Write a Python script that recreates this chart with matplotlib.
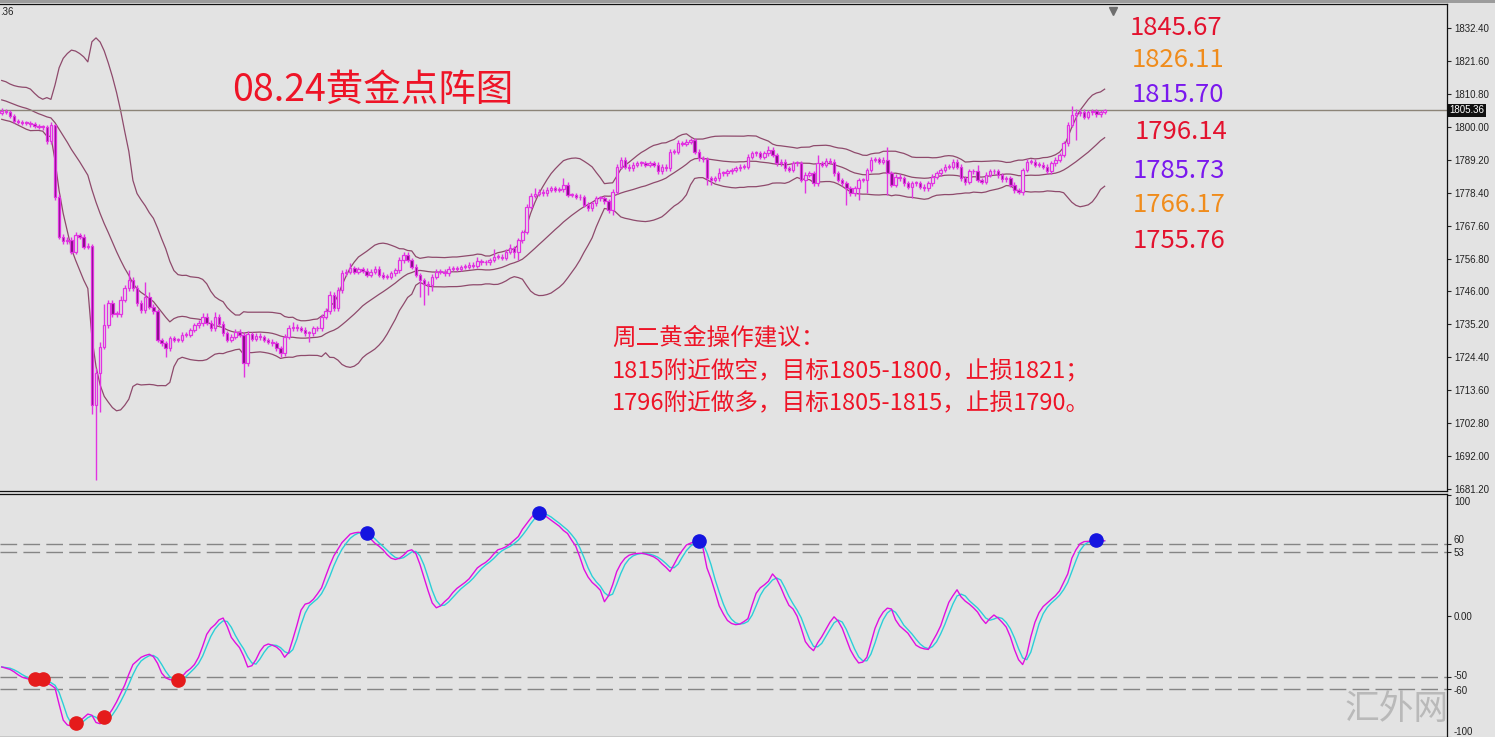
import numpy as np
import pandas as pd
import matplotlib
matplotlib.use("Agg")
import matplotlib.pyplot as plt
from matplotlib import transforms
from matplotlib.patches import Rectangle

plt.rcParams['font.family'] = ['Noto Sans CJK SC', 'DejaVu Sans']

# closes before the visible window, only used to warm up the bollinger bands
closes_prior = [1812.5, 1814.0, 1813.0, 1811.5, 1810.0, 1808.5, 1811.0, 1813.5, 1812.0, 1809.5,
                1806.0, 1807.5, 1808.5, 1807.0, 1806.0, 1805.0, 1805.5, 1804.5, 1804.5]

closes = [
    1805.0, 1804.8, 1803.5, 1802.0, 1801.5, 1801.3, 1801.2, 1800.8, 1800.3, 1800.0,
    1799.8, 1795.2, 1800.5, 1777.1, 1764.0, 1762.5, 1763.0, 1759.0, 1764.5, 1764.0,
    1760.7, 1761.0, 1708.8, 1719.2, 1727.9, 1735.0, 1742.1, 1738.5, 1738.5, 1743.2,
    1747.0, 1749.8, 1747.0, 1742.1, 1739.9, 1744.3, 1741.0, 1739.5, 1730.1, 1729.0,
    1727.4, 1730.7, 1730.1, 1730.1, 1731.8, 1731.8, 1733.4, 1735.0, 1735.6, 1737.8,
    1735.8, 1733.9, 1737.8, 1735.5, 1732.3, 1730.1, 1731.2, 1732.8, 1731.8, 1722.5,
    1732.0, 1730.5, 1731.5, 1731.0, 1730.1, 1729.5, 1729.0, 1727.4, 1725.7, 1731.2,
    1733.9, 1734.4, 1734.0, 1733.5, 1732.3, 1732.3, 1733.9, 1733.9, 1737.7, 1739.5,
    1745.0, 1740.5, 1746.4, 1752.0, 1752.5, 1753.6, 1752.5, 1753.3, 1752.8, 1751.5,
    1752.5, 1753.5, 1751.5, 1750.8, 1750.8, 1752.0, 1753.0, 1756.2, 1758.0, 1756.3,
    1754.1, 1751.4, 1749.7, 1748.6, 1748.2, 1750.8, 1752.5, 1752.4, 1752.0, 1753.5,
    1753.7, 1753.5, 1754.0, 1754.1, 1754.8, 1754.5, 1756.0, 1755.5, 1755.5, 1756.3,
    1757.4, 1757.4, 1757.0, 1759.0, 1760.1, 1759.0, 1762.8, 1765.5, 1773.8, 1777.4,
    1778.0, 1778.7, 1778.2, 1779.3, 1779.8, 1779.3, 1779.5, 1780.9, 1777.6, 1777.6,
    1777.1, 1776.8, 1774.4, 1773.3, 1774.9, 1776.5, 1776.5, 1775.5, 1772.7, 1778.7,
    1786.9, 1789.1, 1786.9, 1786.4, 1787.5, 1788.0, 1788.0, 1787.5, 1788.0, 1787.5,
    1785.3, 1786.9, 1786.4, 1791.8, 1791.8, 1794.6, 1794.3, 1795.0, 1795.5, 1791.8,
    1789.7, 1789.3, 1783.1, 1782.5, 1783.1, 1784.7, 1784.7, 1785.3, 1785.8, 1786.4,
    1786.9, 1786.9, 1790.2, 1791.3, 1791.3, 1790.2, 1791.3, 1792.4, 1790.7, 1788.0,
    1788.5, 1786.4, 1785.8, 1788.0, 1788.0, 1782.5, 1784.2, 1784.7, 1781.4, 1788.0,
    1787.5, 1788.8, 1788.5, 1784.7, 1782.5, 1781.4, 1779.8, 1778.2, 1779.8, 1782.5,
    1782.5, 1785.8, 1789.1, 1789.3, 1788.5, 1789.1, 1784.7, 1780.9, 1783.6, 1783.1,
    1781.4, 1780.3, 1781.4, 1781.4, 1780.3, 1779.8, 1781.4, 1783.6, 1784.7, 1785.8,
    1786.9, 1786.9, 1788.5, 1786.9, 1783.1, 1782.0, 1785.3, 1785.3, 1782.5, 1782.0,
    1784.2, 1785.3, 1785.3, 1784.0, 1782.8, 1783.1, 1780.9, 1779.2, 1778.7, 1785.8,
    1788.5, 1788.5, 1787.5, 1787.5, 1786.9, 1785.3, 1788.0, 1789.1, 1790.7, 1794.5,
    1800.6, 1803.8, 1804.4, 1804.9, 1803.3, 1804.7, 1805.0, 1804.0, 1804.8, 1805.36,
]

# wick length above / below the candle body
wick_up = [
    1.0, 0.8, 0.8, 0.6, 0.6, 0.6, 0.6, 0.6, 0.6, 0.6,
    0.6, 0.8, 1.0, 0.5, 0.8, 0.8, 1.0, 0.8, 1.0, 0.8,
    0.8, 0.8, 0.5, 1.8, 1.5, 7.0, 1.0, 1.0, 1.0, 1.2,
    1.0, 3.2, 1.0, 1.0, 1.0, 4.7, 1.5, 1.0, 0.8, 0.8,
    0.8, 0.8, 0.8, 0.8, 0.8, 0.8, 0.8, 0.8, 1.0, 1.0,
    1.0, 0.8, 1.5, 0.8, 0.8, 0.8, 0.8, 0.8, 0.8, 0.8,
    1.0, 0.8, 1.0, 0.8, 0.8, 0.8, 0.8, 0.8, 0.8, 1.0,
    1.0, 1.5, 0.8, 0.8, 0.8, 0.8, 0.8, 0.8, 1.0, 1.0,
    1.0, 0.8, 1.0, 1.0, 1.0, 1.6, 0.8, 0.8, 0.8, 0.8,
    0.8, 0.8, 0.8, 0.8, 0.8, 0.8, 0.8, 1.0, 1.0, 0.8,
    0.8, 0.8, 0.8, 0.8, 0.8, 0.8, 0.8, 0.8, 0.8, 0.8,
    0.8, 0.8, 0.8, 0.8, 0.8, 0.8, 1.4, 0.8, 0.8, 0.8,
    2.6, 0.8, 0.8, 0.8, 1.6, 0.8, 0.8, 0.8, 0.8, 0.8,
    1.8, 0.8, 0.8, 0.8, 0.8, 0.8, 0.8, 2.2, 0.8, 0.8,
    0.8, 0.8, 0.8, 0.8, 0.8, 0.8, 0.8, 0.8, 0.8, 0.8,
    0.8, 0.8, 0.8, 0.8, 0.8, 0.8, 0.8, 0.8, 0.8, 0.8,
    0.8, 0.8, 0.8, 0.8, 0.8, 1.1, 0.8, 0.8, 0.8, 0.8,
    0.8, 0.8, 0.8, 0.8, 0.8, 1.7, 0.8, 0.8, 0.8, 0.8,
    0.8, 0.8, 0.8, 0.8, 0.8, 0.8, 0.8, 1.1, 0.8, 0.8,
    0.8, 0.8, 0.8, 0.8, 0.8, 0.8, 0.8, 0.8, 0.8, 2.7,
    0.8, 0.8, 0.8, 0.8, 0.8, 0.8, 0.8, 0.8, 0.8, 0.8,
    0.8, 0.8, 0.8, 0.8, 0.8, 0.8, 4.3, 0.8, 0.8, 0.8,
    0.8, 0.8, 0.8, 0.8, 0.8, 0.8, 0.8, 0.8, 0.8, 0.8,
    0.8, 0.8, 0.8, 0.8, 0.8, 0.8, 0.8, 0.8, 2.1, 0.8,
    0.8, 0.8, 0.8, 0.8, 0.8, 0.8, 0.8, 0.8, 0.8, 0.8,
    0.8, 0.8, 0.8, 0.8, 0.8, 0.8, 0.8, 0.8, 0.8, 0.8,
    0.8, 3.0, 1.4, 0.8, 0.8, 0.8, 0.8, 0.8, 0.8, 0.5,
]
wick_dn = [
    0.8, 0.8, 0.8, 0.8, 0.8, 0.8, 0.8, 0.8, 0.8, 0.8,
    0.8, 1.0, 0.8, 1.1, 0.8, 0.8, 0.8, 0.8, 0.8, 0.8,
    0.8, 0.8, 2.8, 24.5, 12.6, 0.8, 0.8, 0.8, 0.8, 0.8,
    0.8, 0.8, 0.8, 0.8, 0.8, 0.8, 0.8, 0.8, 0.8, 0.8,
    2.8, 0.8, 0.8, 0.8, 0.8, 0.8, 0.8, 0.8, 0.8, 0.8,
    0.8, 0.8, 0.8, 0.8, 0.8, 0.8, 0.8, 0.8, 0.8, 4.4,
    0.8, 0.8, 0.8, 0.8, 0.8, 0.8, 0.8, 0.8, 1.1, 0.8,
    0.8, 0.8, 0.8, 0.8, 0.8, 2.8, 0.8, 0.8, 0.8, 0.8,
    0.8, 0.8, 0.8, 0.8, 0.8, 0.8, 0.8, 0.8, 0.8, 0.8,
    0.8, 0.8, 0.8, 0.8, 0.8, 0.8, 0.8, 0.8, 0.8, 0.8,
    0.8, 0.8, 5.4, 7.1, 3.2, 2.2, 0.8, 0.8, 0.8, 0.8,
    0.8, 0.8, 0.8, 0.8, 0.8, 0.8, 0.8, 0.8, 0.8, 0.8,
    0.8, 0.8, 0.8, 0.8, 0.8, 2.0, 2.7, 0.8, 0.8, 0.8,
    0.8, 0.8, 0.8, 0.8, 0.8, 0.8, 0.8, 0.8, 0.8, 0.8,
    0.8, 0.8, 0.8, 1.1, 0.8, 0.8, 0.8, 0.8, 1.1, 1.6,
    0.8, 0.8, 0.8, 0.8, 0.8, 0.8, 0.8, 0.8, 0.8, 0.8,
    0.8, 0.8, 0.8, 0.8, 0.8, 0.8, 0.8, 0.8, 0.8, 0.8,
    0.8, 0.8, 2.2, 1.6, 0.8, 0.8, 0.8, 0.8, 0.8, 0.8,
    0.8, 0.8, 0.8, 0.8, 0.8, 0.8, 0.8, 0.8, 0.8, 0.8,
    0.8, 0.8, 0.8, 0.8, 0.8, 0.8, 4.3, 0.8, 0.8, 0.8,
    0.8, 0.8, 0.8, 0.8, 0.8, 0.8, 5.5, 0.8, 0.8, 3.8,
    0.8, 4.3, 0.8, 0.8, 0.8, 0.8, 7.1, 0.8, 0.8, 0.8,
    0.8, 0.8, 3.8, 0.8, 0.8, 0.8, 0.8, 0.8, 0.8, 0.8,
    0.8, 0.8, 0.8, 0.8, 0.8, 1.1, 0.8, 0.8, 0.8, 0.8,
    0.8, 0.8, 0.8, 0.8, 0.8, 0.8, 0.8, 0.8, 0.8, 1.1,
    0.8, 0.8, 0.8, 0.8, 0.8, 0.8, 0.8, 0.8, 0.8, 0.8,
    0.8, 0.8, 8.2, 0.8, 0.8, 0.8, 0.8, 0.8, 0.8, 0.8,
]

# fast oscillator line (magenta); the slow line is its 3-bar average
osc_fast = [
    -42, -43, -44, -46, -48.5, -50.5, -51.5, -52.5, -52.5, -52.5,
    -53, -55, -57, -59.4, -73, -86, -90, -91, -89.5, -87,
    -84, -81, -82, -88, -89, -86, -82, -77, -71, -64,
    -57, -48, -40, -37, -34, -32.5, -31.5, -33.5, -39, -47,
    -51, -52.5, -53, -53.5, -50, -46, -43.5, -40, -34, -25,
    -15, -10, -7, -3, -1.5, -8.5, -17.5, -22, -26, -33,
    -42, -41, -36, -29, -24.5, -23, -24, -25.5, -28.5, -34,
    -30, -19, -7.5, 5, 10, 11, 14, 18.5, 23.5, 33,
    42, 50, 55.5, 61, 64.5, 68, 69, 69.5, 69, 68,
    64, 60.5, 58, 55, 51, 48, 47, 48, 50.5, 54,
    55, 52, 43, 32, 21, 11, 7, 8.5, 12, 15,
    19.5, 23, 25.5, 28, 31, 35.5, 40, 42.5, 44.5, 47.5,
    51.5, 55, 56, 57.5, 60, 63, 66, 72, 76.5, 81,
    85, 85.2, 85, 82, 79.5, 77, 74.5, 71, 68.5, 63,
    58, 49, 39, 32.5, 28, 25, 21.5, 12, 17, 26,
    37, 43.5, 48, 50.5, 51.5, 52, 52.2, 51.5, 50.5, 49.2,
    47, 43.5, 40.5, 37, 43, 49.5, 54.5, 59, 60.5, 61.8,
    61, 57, 40, 31, 20, 8.5, 2, -3.5, -6, -7,
    -6.5, -4.5, -2, 9, 19, 23.5, 26, 29, 35, 31,
    24, 16, 9, 6, 0, -10, -21, -25.5, -28.5, -22,
    -17, -11, -5, -0.5, -4, -10, -19, -28, -34, -38.7,
    -38, -34, -22, -10, -2, 3.5, 6.7, 6, -3, -8,
    -11, -14, -19, -24, -26, -27, -27.5, -21, -15, -8,
    2, 11.5, 17, 21.9, 16, 12.5, 10, 7, 3.5, -2,
    -6, -2, 1, -1.5, -5, -9, -17, -27.5, -36, -40,
    -32, -17, -5, 3, 8, 11, 14, 17, 21, 28,
    35, 48, 55, 60, 61.8, 62, 62.3, 62.4, 62.5, 62.5,
]

red_dot_bars = [8, 10, 18, 25, 43]
red_dot_vals = [-51.6, -51.6, -88.0, -83.6, -53.0]
blue_dot_bars = [89, 131, 170, 267]
blue_dot_vals = [69.0, 85.5, 62.4, 63.2]

last_price = 1805.36
price_ticks = [1832.40, 1821.60, 1810.80, 1800.00, 1789.20, 1778.40, 1767.60, 1756.80,
               1746.00, 1735.20, 1724.40, 1713.60, 1702.80, 1692.00, 1681.20]
osc_ticks = [100, 60, 53, 0, -50, -60, -100]
osc_tick_labels = ['100', '60', '53', '0.00', '-50', '-60', '-100']
osc_levels = [60, 53, -50, -60]

level_labels = ['1845.67', '1826.11', '1815.70', '1796.14', '1785.73', '1766.17', '1755.76']
level_colors = ['#E3122E', '#F08C1C', '#7A18EE', '#E3122E', '#7A18EE', '#F08C1C', '#E3122E']
title = '08.24黄金点阵图'
advice = ['周二黄金操作建议：',
          '1815附近做空，目标1805-1800，止损1821；',
          '1796附近做多，目标1805-1815，止损1790。']
watermark = '汇外网'

BG = '#E3E3E3'
CANDLE = '#E233E2'
DARK = '#7E0C7E'
BAND = '#8E4A6C'
W, H = 1495, 737


def fx(x):
    return x / W


def fy(y):
    return 1 - y / H


fig = plt.figure(figsize=(W / 100, H / 100), dpi=100, facecolor=BG)
fig.patches.append(Rectangle((0, fy(3)), 1, 3 / H, transform=fig.transFigure,
                             facecolor='#9C9C9C', edgecolor='none'))

ax1 = fig.add_axes([0, fy(491), fx(1447), (491 - 4) / H], facecolor=BG)
ax2 = fig.add_axes([0, 0, fx(1447), (737 - 494) / H], facecolor=BG)

# ---- price panel ----
n = len(closes)
idx = np.arange(n)
c = np.array(closes)
o = np.r_[closes_prior[-1], c[:-1]]
top = np.maximum(o, c)
bot = np.minimum(o, c)
hi = top + np.array(wick_up)
lo = bot - np.array(wick_dn)
body = np.maximum(top - bot, 0.3)
bull = c >= o

s = pd.Series(closes_prior + closes)
mid = s.rolling(20).mean()
sd = s.rolling(20).std(ddof=0)
x_all = np.arange(-len(closes_prior), n)
for line in (mid, mid + 2 * sd, mid - 2 * sd):
    ax1.plot(x_all, line, color=BAND, lw=0.9, zorder=1)

ax1.axhline(last_price, color='#8C8478', lw=1, zorder=1)
ax1.vlines(idx, lo, hi, color=CANDLE, lw=1, zorder=2)
ax1.bar(idx[bull], body[bull], bottom=bot[bull], width=0.6, facecolor=BG,
        edgecolor=CANDLE, lw=0.9, zorder=3)
ax1.bar(idx[~bull], body[~bull], bottom=bot[~bull], width=0.6, facecolor=DARK,
        edgecolor=CANDLE, lw=0.9, zorder=3)

ax1.set_xlim(-0.42, 352.5)
ax1.set_ylim(1680.65, 1840.16)
ax1.set_xticks([])
ax1.yaxis.tick_right()
ax1.set_yticks(price_ticks)
ax1.set_yticklabels(['%.2f' % t for t in price_ticks], family='Liberation Sans')
ax1.tick_params(axis='y', length=3, width=0.8, pad=2, labelsize=7, colors='#222222')
ax1.text(1.0015, last_price, '%.2f' % last_price, transform=ax1.get_yaxis_transform(),
         color='white', fontsize=7, family='Liberation Sans', va='center', ha='left',
         bbox=dict(facecolor='#101010', edgecolor='none', pad=1.2))
ax1.plot([271], [0.985], marker='v', ms=6, color='#6E6E6E',
         transform=transforms.blended_transform_factory(ax1.transData, ax1.transAxes),
         clip_on=False)

# ---- oscillator panel ----
k = pd.Series(osc_fast)
d = k.rolling(3, min_periods=1).mean()
for lv in osc_levels:
    ax2.axhline(lv, color='#858585', lw=1, dashes=(12, 4.5), zorder=1)
ax2.plot(np.arange(len(osc_fast)), d, color='#2CCFD8', lw=1, zorder=2)
ax2.plot(np.arange(len(osc_fast)), k, color='#E010E0', lw=1, zorder=3)
ax2.plot(red_dot_bars, red_dot_vals, 'o', color='#E51B1B', ms=9.5, zorder=4)
ax2.plot(blue_dot_bars, blue_dot_vals, 'o', color='#1414E0', ms=9.5, zorder=4)

ax2.set_xlim(-0.42, 352.5)
ax2.set_ylim(-99.6, 101.2)
ax2.set_xticks([])
ax2.yaxis.tick_right()
ax2.set_yticks(osc_ticks)
ax2.set_yticklabels(osc_tick_labels, family='Liberation Sans')
ax2.tick_params(axis='y', length=3, width=0.8, pad=2, labelsize=7, colors='#222222')
shifts = {'100': -6, '60': 5, '-50': 2, '-60': -1, '-100': 6}
for lab in ax2.get_yticklabels():
    dy = shifts.get(lab.get_text(), 0)
    if dy:
        lab.set_transform(lab.get_transform() +
                          transforms.ScaledTranslation(0, dy / 100, fig.dpi_scale_trans))

for ax in (ax1, ax2):
    ax.spines['left'].set_visible(False)
    for sp in ('top', 'right', 'bottom'):
        ax.spines[sp].set_color('#111111')
        ax.spines[sp].set_linewidth(0.9)

# ---- annotations ----
fig.text(fx(0), fy(12), '.36', fontsize=7, family='Liberation Sans', va='center', color='#222222')
fig.text(fx(232), fy(90), title, fontsize=27, color='#EE1427', va='center', ha='left')
level_x = [1130, 1132, 1132, 1135, 1133, 1133, 1133]
level_y = [28, 60, 95, 132, 171, 205, 241]
for lab, col, lx, ly in zip(level_labels, level_colors, level_x, level_y):
    fig.text(fx(lx), fy(ly), lab, fontsize=18.5, color=col, va='center', ha='left')
for i, line in enumerate(advice):
    fig.text(fx(612), fy(338 + 33 * i), line, fontsize=17, color='#EE1427', va='center', ha='left')
fig.text(fx(1397), fy(710), watermark, fontsize=25, color='#B9B9B9', va='center', ha='center')

fig.savefig('out.png', dpi=100, facecolor=BG)
